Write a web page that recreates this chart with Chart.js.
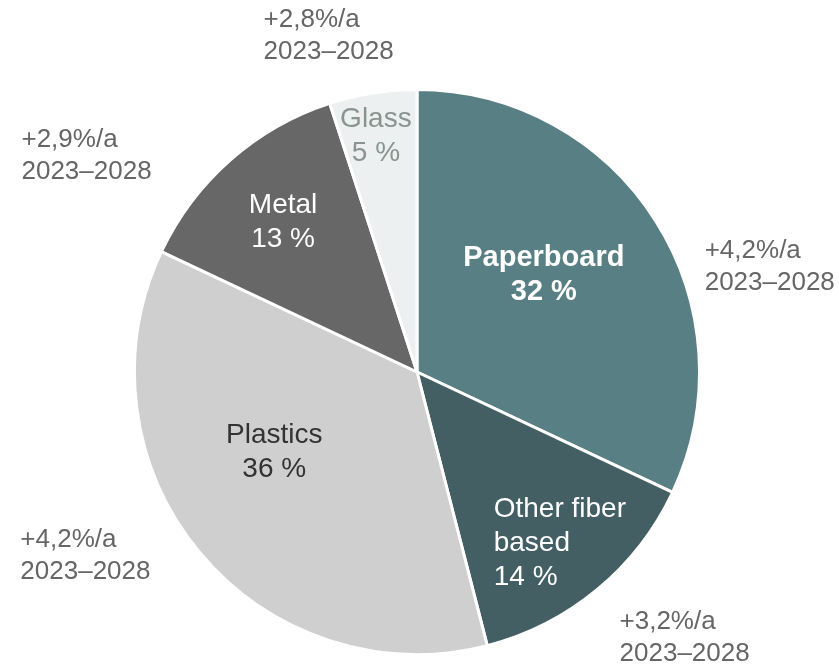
<!DOCTYPE html>
<html>
<head>
<meta charset="utf-8">
<script src="https://cdn.jsdelivr.net/npm/chart.js@4.4.1/dist/chart.umd.min.js"></script>
<style>
  html, body { margin: 0; padding: 0; background: #ffffff; }
  #wrap { position: relative; width: 839px; height: 665px; }
</style>
</head>
<body>
<div id="wrap"><canvas id="chart"></canvas></div>
<script>
// Packaging market shares by material, with annual growth 2023–2028
const categories = ['Paperboard', 'Other fiber based', 'Plastics', 'Metal', 'Glass'];
const shares = [32, 14, 36, 13, 5];
const growthRates = ['+4,2%/a', '+3,2%/a', '+4,2%/a', '+2,9%/a', '+2,8%/a'];
const growthPeriod = '2023–2028';

const sliceColors = ['#587f84', '#435f64', '#cfcfcf', '#676767', '#ecf0f0'];

// Label styling and placement (polar: degrees clockwise from 12 o'clock, radius as fraction of the pie radius)
const FONT = '"Liberation Sans", Arial, Helvetica, sans-serif';
const INNER_SIZE = 28;
const INNER_BOLD_SIZE = 29;
const INNER_LINE_H = 34;
const OUTER_SIZE = 26;
const OUTER_LINE_H = 32;
const innerLabelStyle = [
  { color: '#ffffff', bold: true,  align: 'center', angle: 52.5,  r: 0.566, lines: ['Paperboard'] },
  { color: '#ffffff', bold: false, align: 'left',   angle: 140.2, r: 0.79,  lines: ['Other fiber', 'based'] },
  { color: '#333333', bold: false, align: 'center', angle: 240.6, r: 0.58,  lines: ['Plastics'] },
  { color: '#ffffff', bold: false, align: 'center', angle: 318.1, r: 0.71,  lines: ['Metal'] },
  { color: '#8a948f', bold: false, align: 'center', angle: 350.1, r: 0.846, lines: ['Glass'] }
];
const outerLabelPlace = [
  { angle: 73.4,  r: 1.303 },
  { angle: 134.8, r: 1.335 },
  { angle: 241.0, r: 1.342 },
  { angle: 303.2, r: 1.398 },
  { angle: 345.3, r: 1.232 }
];

function drawBlock(ctx, lines, cx, cy, align, lineH) {
  const widths = lines.map(l => ctx.measureText(l).width);
  const blockW = Math.max(...widths);
  const left = cx - blockW / 2;
  ctx.textBaseline = 'middle';
  lines.forEach((line, i) => {
    const y = cy + (i - (lines.length - 1) / 2) * lineH;
    if (align === 'center') {
      ctx.textAlign = 'center';
      ctx.fillText(line, cx, y);
    } else {
      ctx.textAlign = 'left';
      ctx.fillText(line, left, y);
    }
  });
}

const sliceLabels = {
  id: 'sliceLabels',
  afterDatasetsDraw(chart) {
    const ctx = chart.ctx;
    const meta = chart.getDatasetMeta(0);
    const values = chart.data.datasets[0].data;
    meta.data.forEach((arc, i) => {
      const R = arc.outerRadius;
      const place = (deg, rf) => {
        const a = deg * Math.PI / 180;
        return { x: arc.x + Math.sin(a) * R * rf, y: arc.y - Math.cos(a) * R * rf };
      };
      // name and share inside the slice
      const st = innerLabelStyle[i];
      const p = place(st.angle, st.r);
      ctx.save();
      ctx.fillStyle = st.color;
      ctx.font = st.bold ? ('bold ' + INNER_BOLD_SIZE + 'px ' + FONT) : (INNER_SIZE + 'px ' + FONT);
      drawBlock(ctx, st.lines.concat([values[i] + ' %']), p.x, p.y, st.align, INNER_LINE_H);
      // growth annotation outside the slice
      const op = outerLabelPlace[i];
      const q = place(op.angle, op.r);
      ctx.fillStyle = '#666666';
      ctx.font = OUTER_SIZE + 'px ' + FONT;
      drawBlock(ctx, [growthRates[i], growthPeriod], q.x, q.y, 'left', OUTER_LINE_H);
      ctx.restore();
    });
  }
};

new Chart(document.getElementById('chart'), {
  type: 'pie',
  data: {
    labels: categories,
    datasets: [{
      data: shares,
      backgroundColor: sliceColors,
      borderColor: '#ffffff',
      borderWidth: 3,
      hoverOffset: 0
    }]
  },
  options: {
    responsive: true,
    maintainAspectRatio: false,
    devicePixelRatio: 1,
    animation: false,
    events: [],
    layout: { padding: { left: 133, top: 88, right: 138, bottom: 9 } },
    plugins: {
      legend: { display: false },
      tooltip: { enabled: false }
    }
  },
  plugins: [sliceLabels]
});
</script>
</body>
</html>
